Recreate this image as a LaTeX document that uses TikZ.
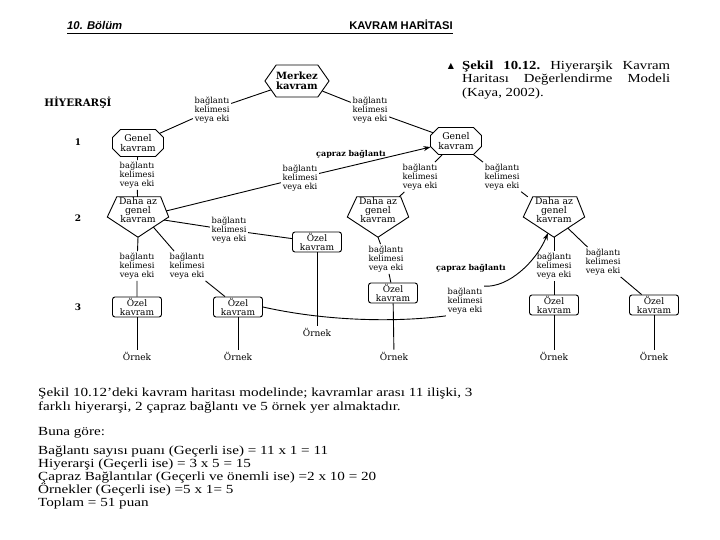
\documentclass[tikz,border=0pt]{standalone}
\usepackage{fontspec}
\setmainfont{Liberation Serif}
\newfontfamily\bodyf[FakeStretch=1.22]{Liberation Serif}
\newfontfamily\capf[FakeStretch=1.2]{Liberation Serif}
\newfontfamily\dg{DejaVu Serif}
\newfontfamily\hsans{Liberation Sans}
\newfontfamily\symf{DejaVu Sans}
\usetikzlibrary{shapes.misc,shapes.symbols,calc,arrows.meta}
\newcommand\pentoutline[1]{\draw[line width=0.9pt] ($(#1.north west)+(9.5,0)$) -- ($(#1.north east)+(-8,0)$) -- (#1.east) -- (#1.south) -- (#1.west) -- cycle;}
\begin{document}
\begin{tikzpicture}[x=1pt,y=-1pt,
  every node/.style={inner sep=0pt},
  conn/.style={line width=0.9pt},
  lab/.style={font=\dg\fontsize{8.3}{9}\selectfont, align=center, inner sep=1.5pt},
  cross/.style={font=\dg\bfseries\fontsize{8}{9}\selectfont},
  ctext/.style={font=\dg\fontsize{9.3}{9.8}\selectfont, align=center},
  oct/.style={ctext, draw, line width=0.9pt, chamfered rectangle, chamfered rectangle xsep=5pt, minimum width=51pt, minimum height=27pt},
  hexa/.style={font=\dg\bfseries\fontsize{10}{10}\selectfont, align=center, draw, line width=0.9pt, signal, signal to=west and east, signal pointer angle=110, minimum width=57pt, minimum height=32pt},
  pent/.style={minimum width=61pt, minimum height=40pt},
  ozel/.style={ctext, font=\dg\fontsize{9}{9.5}\selectfont, draw, line width=0.9pt, rounded corners=2.5pt, minimum width=49pt, minimum height=20pt},
  ornek/.style={font=\dg\fontsize{9}{10}\selectfont, inner sep=2pt},
  num/.style={font=\dg\bfseries\fontsize{9}{10}\selectfont},
  body/.style={anchor=base west, font=\bodyf\fontsize{12.4}{13}\selectfont},
  arr/.style={-{Stealth[length=7pt,width=5pt]}}
]
\useasboundingbox[fill=white] (0,0) rectangle (720,540);

% header
\node[anchor=base west, font=\hsans\bfseries\itshape\fontsize{11.3}{12}\selectfont] (hdl) at (67,30) {10. Bölüm};
\node[anchor=base east, font=\hsans\bfseries\fontsize{11.2}{12}\selectfont] (hdr) at (453,30) {KAVRAM HAR\.{I}TASI};
\draw[line width=1.6pt] (67,33.5) -- (453,33.5);

% caption
\node[font=\symf\fontsize{8}{8}\selectfont] (tri) at (451,66) {▲};
\node[anchor=north west, font=\capf\fontsize{12.3}{13.5}\selectfont, text width=208pt, align=justify] (cap) at (462,60.5)
  {\frenchspacing\textbf{Şekil 10.12.} Hiyerarşik Kavram\linebreak Haritası Değerlendirme Modeli\linebreak (Kaya, 2002).};

% hierarchy labels
\node[font=\dg\bfseries\fontsize{10.3}{10}\selectfont] (hiy) at (78,103) {H\.{I}YERARŞ\.{I}};
\node[num] (n1) at (78,142) {1};
\node[num] (n2) at (78,218) {2};
\node[num] (n3) at (78,307) {3};

% concepts
\node[hexa] (mk) at (297,81) {Merkez\\kavram};
\node[oct] (gL) at (138,143) {Genel\\kavram};
\node[oct] (gR) at (456,141) {Genel\\kavram};
\node[pent] (pL) at (138,217) {\parbox[c][40pt][t]{61pt}{\centering\dg\fontsize{9.3}{9.4}\selectfont Daha az\\genel\\kavram}};
\node[pent] (pM) at (378,217) {\parbox[c][40pt][t]{61pt}{\centering\dg\fontsize{9.3}{9.4}\selectfont Daha az\\genel\\kavram}};
\node[pent] (pR) at (554,217) {\parbox[c][40pt][t]{61pt}{\centering\dg\fontsize{9.3}{9.4}\selectfont Daha az\\genel\\kavram}};
\pentoutline{pL}
\pentoutline{pM}
\pentoutline{pR}
\node[ozel] (o1) at (137,307) {Özel\\kavram};
\node[ozel] (o2) at (238,307) {Özel\\kavram};
\node[ozel] (oM) at (317,242) {Özel\\kavram};
\node[ozel] (o3) at (393,293) {Özel\\kavram};
\node[ozel] (o4) at (554,305) {Özel\\kavram};
\node[ozel] (o5) at (654,305) {Özel\\kavram};
\node[ornek] (e1) at (137,356) {Örnek};
\node[ornek] (e2) at (238,356) {Örnek};
\node[ornek] (eM) at (317,332) {Örnek};
\node[ornek] (e3) at (394,356) {Örnek};
\node[ornek] (e4) at (554,356) {Örnek};
\node[ornek] (e5) at (654,356) {Örnek};

% link labels
\node[lab] (lmL) at (212,110) {bağlantı\\kelimesi\\veya eki};
\node[lab] (lmR) at (370,110) {bağlantı\\kelimesi\\veya eki};
\node[lab] (lgL) at (137,175) {bağlantı\\kelimesi\\veya eki};
\node[lab] (lc1) at (300,178) {bağlantı\\kelimesi\\veya eki};
\node[lab] (lgR1) at (420,177) {bağlantı\\kelimesi\\veya eki};
\node[lab] (lgR2) at (502,177) {bağlantı\\kelimesi\\veya eki};
\node[lab] (lpL1) at (137,266) {bağlantı\\kelimesi\\veya eki};
\node[lab] (lpL2) at (187,266) {bağlantı\\kelimesi\\veya eki};
\node[lab] (lpLm) at (229,230) {bağlantı\\kelimesi\\veya eki};
\node[lab] (lpM) at (386,259) {bağlantı\\kelimesi\\veya eki};
\node[lab] (lc2) at (465,301) {bağlantı\\kelimesi\\veya eki};
\node[lab] (lpR1) at (554,266) {bağlantı\\kelimesi\\veya eki};
\node[lab] (lpR2) at (603,262) {bağlantı\\kelimesi\\veya eki};
\node[cross] (cb1) at (351,154) {çapraz bağlantı};
\node[cross] (cb2) at (471,268) {çapraz bağlantı};

% connectors
\draw[conn] (mk) -- (lmL) -- (gL);
\draw[conn] (mk) -- (lmR) -- (gR);
\draw[conn] (gL) -- (lgL) -- (pL);
\draw[conn] (gR) -- (lgR1) -- (pM);
\draw[conn] (gR) -- (lgR2) -- (pR);
\draw[conn] ($($(pL.north east)+(-8,0)$)!0.7!(pL.east)$) -- (lc1);
\draw[conn,arr] (lc1) -- (gR);
\draw[conn] (pL.south) -- (lpL1) -- (o1);
\draw[conn] ($(pL.east)!0.5!(pL.south)$) -- (lpL2) -- (o2);
\draw[conn] ($(pL.east)!0.15!(pL.south)$) -- (lpLm) -- (oM);
\draw[conn] (pM.south) -- (lpM) -- (o3);
\draw[conn] (pR.south) -- (lpR1) -- (o4);
\draw[conn] ($(pR.east)!0.55!(pR.south)$) -- (lpR2) -- (o5);
\draw[conn] (o1) -- (e1);
\draw[conn] (o2) -- (e2);
\draw[conn] (oM) -- (eM);
\draw[conn] (o3) -- (e3);
\draw[conn] (o4) -- (e4);
\draw[conn] (o5) -- (e5);
\draw[conn] (o2.east) .. controls (330,322) and (400,322) .. (lc2.south west);
\draw[conn,arr] (lc2.north east) .. controls (508,288) and (536,262) .. ($(pR.west)!0.8!(pR.south)$);

% body text
\node[body] (b1) at (38,396) {Şekil 10.12’deki kavram haritası modelinde; kavramlar arası 11 ilişki, 3};
\node[body] (b2) at (38,410) {farklı hiyerarşi, 2 çapraz bağlantı ve 5 örnek yer almaktadır.};
\node[body] (b3) at (38,435) {Buna göre:};
\node[body] (b4) at (38,454) {Bağlantı sayısı puanı (Geçerli ise) = 11 x 1 = 11};
\node[body] (b5) at (38,467) {Hiyerarşi (Geçerli ise) = 3 x 5 = 15};
\node[body] (b6) at (38,480) {Çapraz Bağlantılar (Geçerli ve önemli ise) =2 x 10 = 20};
\node[body] (b7) at (38,493) {Örnekler (Geçerli ise) =5 x 1= 5};
\node[body] (b8) at (38,506) {Toplam = 51 puan};
\end{tikzpicture}
\end{document}
